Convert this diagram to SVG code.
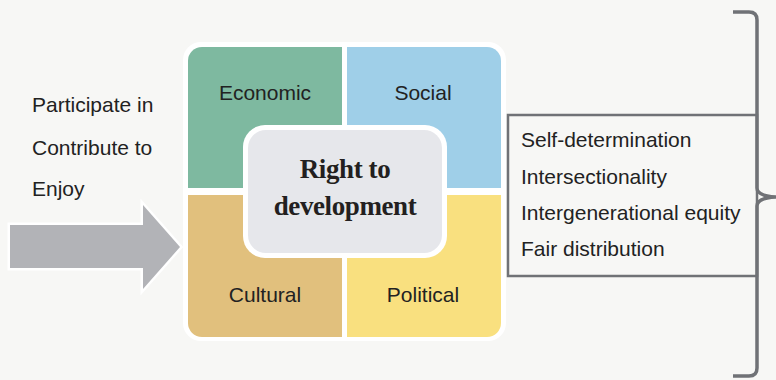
<svg xmlns="http://www.w3.org/2000/svg" width="776" height="380" viewBox="0 0 776 380">
<style>
.sans{font-family:"Liberation Sans",Arial,sans-serif;font-size:21px;fill:#222222}
.mid{text-anchor:middle}
.title{font-family:"Liberation Serif","Times New Roman",serif;font-weight:bold;font-size:27px;fill:#231f20;text-anchor:middle;letter-spacing:-0.4px}
.line{fill:none;stroke:#707276;stroke-width:3.5;stroke-linecap:butt}
</style>
<defs>
<clipPath id="sq"><rect x="188" y="47" width="313" height="290" rx="14"/></clipPath>
</defs>
<rect width="776" height="380" fill="#f7f7f5"/>
<g id="arrow">
<polygon points="10,225 143,225 143,205 180,247 143,289 143,268 10,268" fill="#b2b3b7" stroke="#ffffff" stroke-width="5" stroke-linejoin="miter" paint-order="stroke"/>
</g>
<g id="actions">
<text class="sans" x="32" y="112">Participate in</text>
<text class="sans" x="32" y="155">Contribute to</text>
<text class="sans" x="32" y="196">Enjoy</text>
</g>
<rect x="183" y="42" width="323" height="299" rx="18" fill="#ffffff"/>
<g clip-path="url(#sq)">
<g id="economic"><rect x="188" y="47" width="154" height="141" fill="#7eb9a0"/></g>
<g id="social"><rect x="347" y="47" width="154" height="141" fill="#9fcfe8"/></g>
<g id="cultural"><rect x="188" y="195" width="154" height="142" fill="#e1c07d"/></g>
<g id="political"><rect x="347" y="195" width="154" height="142" fill="#f9e07f"/></g>
</g>
<text class="sans mid" x="265" y="100">Economic</text>
<text class="sans mid" x="423" y="100">Social</text>
<text class="sans mid" x="265" y="302">Cultural</text>
<text class="sans mid" x="423" y="302">Political</text>
<g id="center">
<rect x="243" y="125" width="204" height="133" rx="22" fill="#ffffff"/>
<rect x="248" y="130" width="194" height="123" rx="18" fill="#e6e7eb"/>
<text class="title" x="345" y="178">Right to</text>
<text class="title" x="345" y="215">development</text>
</g>
<g id="principles">
<rect x="508" y="115" width="249" height="161" fill="#f7f7f5" stroke="#707276" stroke-width="2.5"/>
<text class="sans" x="521" y="147">Self-determination</text>
<text class="sans" x="521" y="184">Intersectionality</text>
<text class="sans" x="521" y="220">Intergenerational equity</text>
<text class="sans" x="521" y="256">Fair distribution</text>
</g>
<g id="connectors">
<path class="line" d="M733,12 H749 Q757,12 757,20 V188 Q757,196 776,197 Q757,198 757,206 V368 Q757,376 749,376 H733"/>
</g>
</svg>
